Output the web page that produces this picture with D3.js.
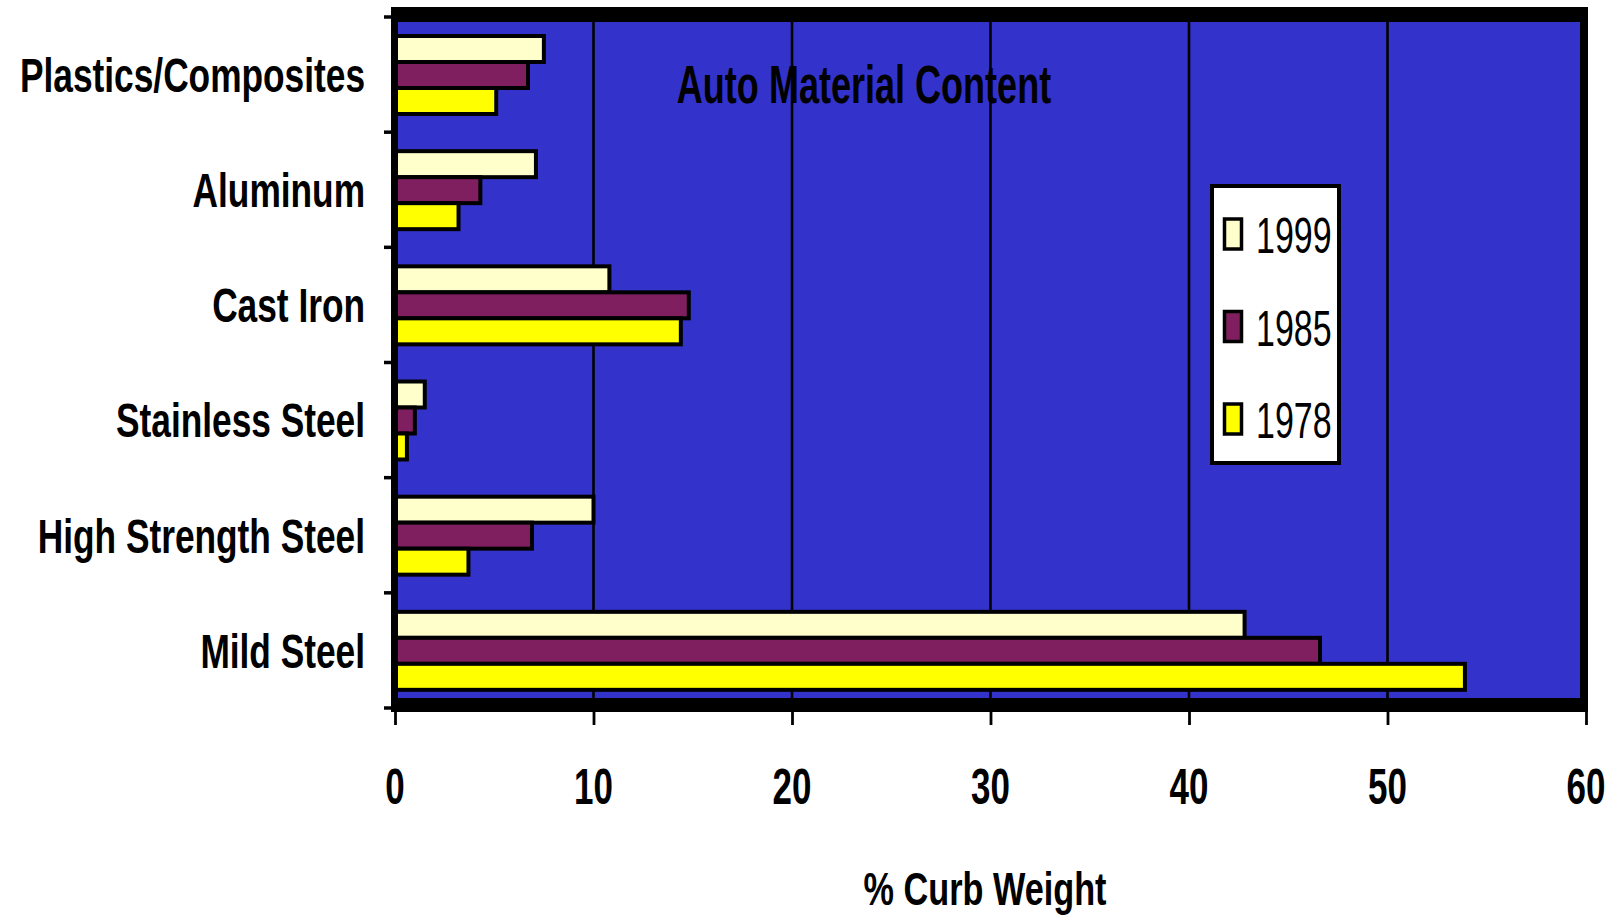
<!DOCTYPE html>
<html>
<head>
<meta charset="utf-8">
<script src="https://cdn.jsdelivr.net/npm/d3@7"></script>
<style>
  html, body { margin: 0; padding: 0; background: #ffffff; }
  svg { display: block; }
  text { font-family: "Liberation Sans", Arial, sans-serif; fill: #000; }
</style>
</head>
<body>
<svg id="chart" width="1614" height="915"></svg>
<script>
// Auto material content, % of curb weight
const categories = ["Plastics/Composites", "Aluminum", "Cast Iron", "Stainless Steel", "High Strength Steel", "Mild Steel"];
const years = ["1999", "1985", "1978"];
const values1999 = [7.5, 7.1, 10.8, 1.5, 10.0, 42.8];
const values1985 = [6.7, 4.3, 14.8, 1.0, 6.9, 46.6];
const values1978 = [5.1, 3.2, 14.4, 0.6, 3.7, 53.9];
const xTickValues = [0, 10, 20, 30, 40, 50, 60];
const yearColors = ["#FFFFCC", "#801F60", "#FFFF00"];
const chartTitle = "Auto Material Content";
const xAxisTitle = "% Curb Weight";

const seriesByYear = { "1999": values1999, "1985": values1985, "1978": values1978 };
const colorOf = d3.scaleOrdinal(years, yearColors);

const svg = d3.select("#chart");

const x = d3.scaleLinear([0, 60], [395, 1586]);
const slot = d3.scaleBand(categories, [17, 708]).padding(0);
const inner = d3.scaleBand(years, [19, 97]).padding(0);

const plotTop = 14, plotBottom = 705, plotRight = 1584;

// plot background
svg.append("rect")
  .attr("x", x(0)).attr("y", plotTop)
  .attr("width", plotRight - x(0)).attr("height", plotBottom - plotTop)
  .attr("fill", "#3333CC");

// vertical gridlines
svg.append("g").selectAll("line")
  .data(xTickValues.filter(v => v > 0 && v < 60))
  .join("line")
  .attr("x1", d => x(d)).attr("x2", d => x(d))
  .attr("y1", plotTop).attr("y2", plotBottom)
  .attr("stroke", "#000").attr("stroke-width", 2.6);

// bars
const rows = categories.map((c, i) => years.map(yr => ({ cat: c, year: yr, value: seriesByYear[yr][i] })));
svg.append("g").selectAll("g")
  .data(rows)
  .join("g")
  .attr("transform", d => `translate(0,${slot(d[0].cat)})`)
  .selectAll("rect")
  .data(d => d)
  .join("rect")
  .attr("x", x(0))
  .attr("y", d => inner(d.year))
  .attr("width", d => x(d.value) - x(0))
  .attr("height", inner.bandwidth())
  .attr("fill", d => colorOf(d.year))
  .attr("stroke", "#000")
  .attr("stroke-width", 4);

// frame around the plot
const frame = svg.append("g").attr("fill", "#000");
frame.append("rect").attr("x", 391).attr("y", 7).attr("width", 1588 - 391).attr("height", 15); // top
frame.append("rect").attr("x", 391).attr("y", 698).attr("width", 1588 - 391).attr("height", 14); // bottom
frame.append("rect").attr("x", 391).attr("y", 7).attr("width", 7).attr("height", 705); // left axis line
frame.append("rect").attr("x", 1580).attr("y", 7).attr("width", 8).attr("height", 705); // right

// category ticks on the left axis (at slot boundaries)
const boundaries = categories.map(c => slot(c)).concat([slot.range()[1]]);
svg.append("g").selectAll("line")
  .data(boundaries)
  .join("line")
  .attr("x1", 384).attr("x2", 392)
  .attr("y1", d => d).attr("y2", d => d)
  .attr("stroke", "#000").attr("stroke-width", 3.5);

// x axis ticks
const xAxis = d3.axisBottom(x).tickValues(xTickValues).tickSize(14).tickSizeOuter(0).tickFormat("");
const xg = svg.append("g").attr("transform", "translate(0,711)").call(xAxis);
xg.select(".domain").remove();
xg.selectAll(".tick line").attr("stroke", "#000").attr("stroke-width", 2.8);

// x tick labels
svg.append("g").selectAll("g")
  .data(xTickValues)
  .join("g")
  .attr("transform", d => `translate(${x(d)},804)`)
  .append("text")
  .attr("transform", "scale(0.7,1)")
  .attr("text-anchor", "middle")
  .attr("font-size", 50)
  .attr("font-weight", "bold")
  .text(d => d);

// category labels
svg.append("g").selectAll("g")
  .data(categories)
  .join("g")
  .attr("transform", d => `translate(365,${slot(d) + slot.bandwidth() / 2})`)
  .append("text")
  .attr("transform", "scale(0.735,1)")
  .attr("text-anchor", "end")
  .attr("dy", "0.36em")
  .attr("font-size", 48)
  .attr("font-weight", "bold")
  .text(d => d);

// chart title
svg.append("g").attr("transform", "translate(864,103)")
  .append("text")
  .attr("transform", "scale(0.68,1)")
  .attr("text-anchor", "middle")
  .attr("font-size", 53)
  .attr("font-weight", "bold")
  .text(chartTitle);

// x axis title
svg.append("g").attr("transform", "translate(985,905)")
  .append("text")
  .attr("transform", "scale(0.745,1)")
  .attr("text-anchor", "middle")
  .attr("font-size", 46)
  .attr("font-weight", "bold")
  .text(xAxisTitle);

// legend
const legend = svg.append("g");
legend.append("rect")
  .attr("x", 1212).attr("y", 186).attr("width", 127).attr("height", 277)
  .attr("fill", "#fff").attr("stroke", "#000").attr("stroke-width", 4);
const legendY = d3.scalePoint(years, [234, 419]);
const item = legend.selectAll("g.item")
  .data(years)
  .join("g")
  .attr("class", "item")
  .attr("transform", d => `translate(0,${legendY(d)})`);
item.append("rect")
  .attr("x", 1224.5).attr("y", -15).attr("width", 17).attr("height", 30)
  .attr("fill", d => colorOf(d)).attr("stroke", "#000").attr("stroke-width", 3.5);
item.append("g").attr("transform", "translate(1256,19)")
  .append("text")
  .attr("transform", "scale(0.68,1)")
  .attr("font-size", 50)
  .text(d => d);
</script>
</body>
</html>
